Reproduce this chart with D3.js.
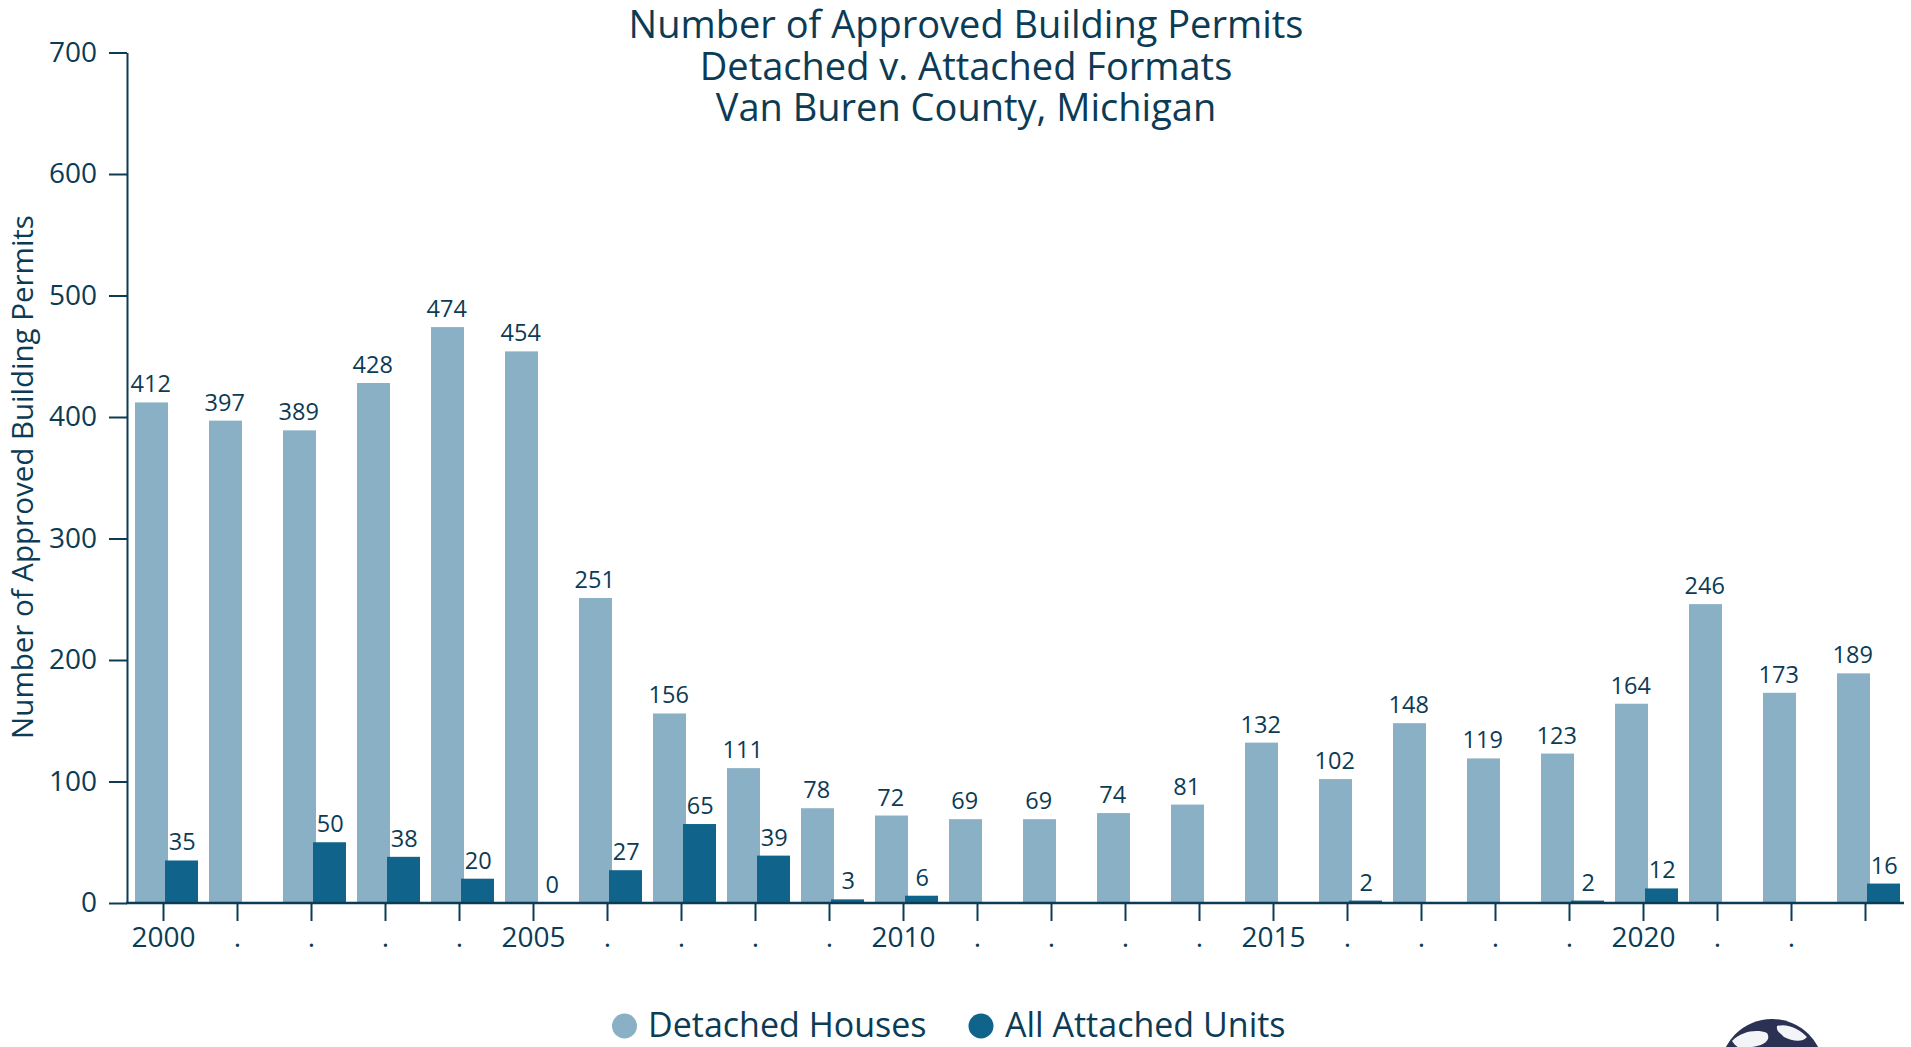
<!DOCTYPE html>
<html><head><meta charset="utf-8">
<script src="https://cdn.jsdelivr.net/npm/d3@7"></script>
<style>
body{margin:0;background:#fff;}
svg{display:block;}
text{font-family:'Open Sans',sans-serif;fill:#0c3b55;}
</style>
</head><body>
<svg id="c" width="1911" height="1047"></svg>
<script>
const years = ["2000","2001","2002","2003","2004","2005","2006","2007","2008","2009","2010","2011",
               "2012","2013","2014","2015","2016","2017","2018","2019","2020","2021","2022","2023"];
const tickLabels = ["2000",".",".",".",".","2005",".",".",".",".","2010",".",".",".",".","2015",".",".",".",".","2020",".",".",""];
const detached = [412,397,389,428,474,454,251,156,111,78,72,69,69,74,81,132,102,148,119,123,164,246,173,189];
const attached = [35,null,50,38,20,0,27,65,39,3,6,null,null,null,null,null,2,null,null,2,12,null,null,16];
const seriesNames = ["Detached Houses","All Attached Units"];
const seriesColors = ["#89b0c4","#10648b"];
const yTicks = [0,100,200,300,400,500,600,700];
const titleLines = ["Number of Approved Building Permits","Detached v. Attached Formats","Van Buren County, Michigan"];
const yTitle = "Number of Approved Building Permits";

const ink = "#0c3b55";
const svg = d3.select("#c");

const x = d3.scaleBand().domain(years).range([129.5, 1905.5]).paddingInner(11/74).paddingOuter(5.5/74);
const xSub = d3.scaleBand().domain(seriesNames).range([0, x.bandwidth()]);
const y = d3.scaleLinear().domain([0,700]).range([903, 52.5]);

// title (one text, three lines)
const title = svg.append("text").attr("text-anchor","middle").style("font-size","38px");
title.selectAll("tspan").data(titleLines).join("tspan")
  .attr("x", 966).attr("y", (d,i)=>38 + i*41.5).text(d=>d);

// y title
svg.append("text").attr("transform","translate(33,477) rotate(-90)")
  .attr("text-anchor","middle").style("font-size","29.5px").text(yTitle);

// bars
const rows = years.map((yr,i)=>({yr, vals:[detached[i], attached[i]]}));
const groups = svg.append("g").selectAll("g").data(rows).join("g")
  .attr("transform", d=>`translate(${x(d.yr)},0)`);
groups.selectAll("rect").data(d=>d.vals.map((v,k)=>({v,k})).filter(e=>e.v!==null))
  .join("rect")
  .attr("x", e=>xSub(seriesNames[e.k]) - (e.k===1?1.5:0))
  .attr("width", xSub.bandwidth()+1.5)
  .attr("y", e=>y(e.v)).attr("height", e=>y(0)-y(e.v))
  .attr("fill", e=>seriesColors[e.k]);
groups.selectAll("text").data(d=>d.vals.map((v,k)=>({v,k})).filter(e=>e.v!==null))
  .join("text")
  .attr("x", e=>xSub(seriesNames[e.k]) + xSub.bandwidth()/2)
  .attr("y", e=>y(e.v) - 10)
  .attr("text-anchor","middle").style("font-size","23.5px")
  .text(e=>e.v);

// y axis
const yAxis = svg.append("g").attr("transform","translate(127,0)")
  .call(d3.axisLeft(y).tickValues(yTicks).tickSize(18).tickSizeOuter(0).tickPadding(12));
yAxis.select(".domain").attr("stroke",ink).attr("stroke-width",2);
yAxis.selectAll(".tick line").attr("stroke",ink).attr("stroke-width",2);
yAxis.selectAll(".tick text").style("font-size","28px").style("font-family","'Open Sans',sans-serif").attr("fill",ink);

// x axis
const xAxis = svg.append("g").attr("transform","translate(-3,903)")
  .call(d3.axisBottom(x).tickFormat((d,i)=>tickLabels[i]).tickSize(18).tickSizeOuter(0).tickPadding(6));
xAxis.select(".domain").remove();
xAxis.selectAll(".tick line").attr("stroke",ink).attr("stroke-width",2);
xAxis.selectAll(".tick text").style("font-size","28px").style("font-family","'Open Sans',sans-serif").attr("fill",ink);
svg.append("line").attr("x1",126).attr("x2",1904).attr("y1",y(0)).attr("y2",y(0))
  .attr("stroke",ink).attr("stroke-width",2.5);

// legend
const legendPos = [[624.5,648],[981,1005]];
const lg = svg.append("g").selectAll("g").data(seriesNames).join("g");
lg.append("circle").attr("cx",(d,i)=>legendPos[i][0]).attr("cy",1026).attr("r",12.5)
  .attr("fill",(d,i)=>seriesColors[i]);
lg.append("text").attr("x",(d,i)=>legendPos[i][1]).attr("y",1037)
  .style("font-size","34px").text(d=>d);

// logo (globe) partially visible at bottom right
const logo = svg.append("g").attr("transform","translate(1772,1071)");
logo.append("circle").attr("r",52).attr("fill","#2b3152");
logo.append("path").attr("d","M-40,-30 C-30,-40 -15,-42 -5,-38 C0,-30 -10,-25 -20,-24 C-28,-20 -35,-22 -40,-30Z").attr("fill","#f3f4f8");
logo.append("path").attr("d","M5,-45 C15,-48 28,-42 35,-34 C30,-28 20,-30 12,-34 C8,-38 4,-40 5,-45Z").attr("fill","#f3f4f8");
logo.append("path").attr("d","M-30,-12 C-20,-18 -5,-16 0,-8 C-8,-2 -22,-4 -30,-12Z").attr("fill","#f3f4f8");
logo.append("path").attr("d","M18,-20 C26,-24 36,-18 40,-10 C32,-6 22,-10 18,-20Z").attr("fill","#f3f4f8");
</script>
</body></html>
